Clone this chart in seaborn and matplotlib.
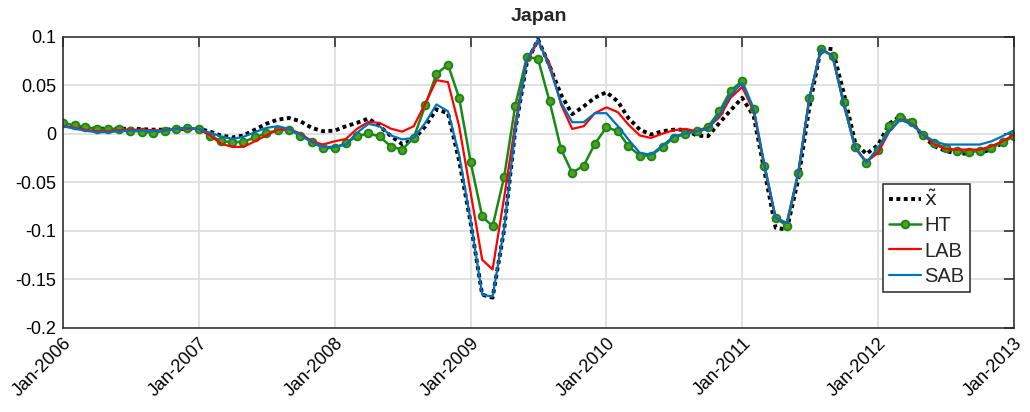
import numpy as np
import pandas as pd
import matplotlib
matplotlib.use("Agg")
import matplotlib.pyplot as plt
import matplotlib.dates as mdates
import seaborn as sns

# monthly values Jan-2006 .. Jan-2013 (85 points)
months = pd.date_range("2006-01-01", "2013-01-01", freq="MS")

x_tilde = [0.008, 0.007, 0.006, 0.005, 0.005, 0.005, 0.005, 0.0045, 0.004, 0.004, 0.0045, 0.005,
           0.005, 0.002, -0.002, -0.004, -0.002, 0.004, 0.010, 0.0144, 0.016, 0.0127, 0.0058, 0.0024,
           0.003, 0.0076, 0.011, 0.0155, 0.0076, -0.0027, -0.011, -0.006, 0.0075, 0.025, 0.021, -0.028,
           -0.092, -0.166, -0.169, -0.099, 0.004, 0.073, 0.097, 0.070, 0.040, 0.020, 0.028, 0.037,
           0.0426, 0.033, 0.016, 0.004, -0.001, 0.0024, 0.004, 0.004, -0.002, -0.0027, 0.011, 0.024,
           0.0368, 0.018, -0.037, -0.097, -0.099, -0.047, 0.028, 0.088, 0.087, 0.042, -0.0096, -0.021,
           -0.012, 0.0103, 0.018, 0.012, -0.0027, -0.013, -0.018, -0.0206, -0.0206, -0.0196, -0.0165, -0.0096,
           -0.001]

ht = [0.011, 0.0086, 0.0069, 0.0048, 0.0048, 0.0048, 0.003, 0.002, 0.0007, 0.003, 0.0048, 0.0058,
      0.0048, -0.002, -0.0079, -0.0089, -0.0085, -0.004, 0.0003, 0.0035, 0.004, -0.002, -0.0085, -0.0148,
      -0.015, -0.0096, -0.003, 0.0003, -0.003, -0.0134, -0.0165, -0.0042, 0.029, 0.0615, 0.071, 0.0368,
      -0.0296, -0.0853, -0.0956, -0.0447, 0.0289, 0.079, 0.077, 0.0333, -0.016, -0.0405, -0.033, -0.0106,
      0.0065, 0.0024, -0.013, -0.0227, -0.0227, -0.0137, -0.0045, 0.0, 0.0024, 0.0069, 0.023, 0.0443,
      0.054, 0.0254, -0.033, -0.087, -0.095, -0.0405, 0.0368, 0.0873, 0.080, 0.033, -0.0137, -0.030,
      -0.0165, 0.0076, 0.0172, 0.0117, -0.001, -0.0096, -0.0148, -0.018, -0.019, -0.018, -0.0148, -0.009,
      -0.0027]

lab = [0.0082, 0.0058, 0.004, 0.0024, 0.0024, 0.0034, 0.004, 0.004, 0.0034, 0.0034, 0.0048, 0.005,
       0.0048, -0.002, -0.0103, -0.0137, -0.0137, -0.0079, -0.002, 0.004, 0.0048, 0.0, -0.0079, -0.0113,
       -0.008, -0.0055, 0.0048, 0.012, 0.011, 0.005, 0.002, 0.0076, 0.031, 0.055, 0.053, 0.0076,
       -0.061, -0.130, -0.140, -0.066, 0.010, 0.0745, 0.095, 0.072, 0.030, 0.0048, 0.0076, 0.021,
       0.027, 0.022, 0.0093, -0.002, -0.0045, 0.0, 0.0034, 0.0048, 0.0024, 0.0058, 0.017, 0.037,
       0.048, 0.023, -0.031, -0.087, -0.092, -0.040, 0.037, 0.087, 0.080, 0.030, -0.015, -0.029,
       -0.020, 0.0024, 0.0144, 0.010, -0.001, -0.0113, -0.0158, -0.0165, -0.0165, -0.0165, -0.013, -0.008,
       -0.001]

sab = [0.0076, 0.005, 0.003, 0.0014, 0.0014, 0.0024, 0.003, 0.003, 0.0024, 0.003, 0.0048, 0.0058,
       0.0048, 0.0007, -0.0027, -0.0055, -0.0034, 0.0014, 0.0058, 0.0076, 0.0048, -0.001, -0.009, -0.0137,
       -0.0137, -0.0113, 0.0007, 0.010, 0.0076, -0.002, -0.006, -0.0045, 0.011, 0.030, 0.023, -0.022,
       -0.090, -0.166, -0.168, -0.098, 0.004, 0.076, 0.097, 0.068, 0.032, 0.0117, 0.0117, 0.021,
       0.021, 0.0076, -0.006, -0.020, -0.0216, -0.0124, -0.0027, 0.0, 0.0024, 0.0048, 0.0196, 0.040,
       0.052, 0.025, -0.030, -0.087, -0.092, -0.040, 0.037, 0.087, 0.080, 0.030, -0.015, -0.030,
       -0.0148, 0.0024, 0.0144, 0.0093, -0.001, -0.008, -0.0113, -0.0113, -0.0113, -0.0113, -0.008, -0.0027,
       0.0034]

y_ticks = [-0.2, -0.15, -0.1, -0.05, 0, 0.05, 0.1]
y_labels = ["-0.2", "-0.15", "-0.1", "-0.05", "0", "0.05", "0.1"]
x_years = pd.date_range("2006-01-01", "2013-01-01", freq="YS")

df = pd.DataFrame({"date": months, "xt": x_tilde, "HT": ht, "LAB": lab, "SAB": sab})

sns.set_style("white")
plt.rcParams["font.family"] = ["Liberation Sans", "DejaVu Sans"]
plt.rcParams["mathtext.fontset"] = "dejavusans"

fig = plt.figure(figsize=(10.3, 4.12), dpi=100)
ax = fig.add_axes([0.0612, 0.2046, 0.9233, 0.7068])

sns.lineplot(data=df, x="date", y="xt", ax=ax, color="black", lw=2.8,
             dashes=False, label=r"$\tilde{\mathrm{x}}$")
ax.lines[-1].set_dashes([1.0, 0.9])
sns.lineplot(data=df, x="date", y="HT", ax=ax, color="#168a16", lw=1.8,
             marker="o", markersize=5.5, markerfacecolor="#5a9a22",
             markeredgecolor="#168a16", markeredgewidth=1.4, label="HT")
sns.lineplot(data=df, x="date", y="LAB", ax=ax, color="#ff0000", lw=1.6, label="LAB")
sns.lineplot(data=df, x="date", y="SAB", ax=ax, color="#0072BD", lw=1.6, label="SAB")

ax.set_xlim(months[0], months[-1])
ax.set_ylim(-0.2, 0.1)
ax.set_yticks(y_ticks)
ax.set_yticklabels(y_labels)
ax.set_xticks(x_years)
ax.xaxis.set_major_formatter(mdates.DateFormatter("%b-%Y"))
plt.setp(ax.get_xticklabels(), rotation=45, ha="right", va="top", rotation_mode="anchor")
ax.set_xlabel("")
ax.set_ylabel("")

ax.grid(True, color="#dedede", lw=1.3)
ax.set_axisbelow(True)
for s in ax.spines.values():
    s.set_color("#262626")
    s.set_linewidth(1.1)
ax.tick_params(axis="both", direction="in", length=7, width=1.1, color="#262626",
               labelsize=13, labelcolor="black", top=True, right=True, pad=5)

ax.set_title("Japan", fontsize=14, fontweight="bold", pad=11)

leg = ax.legend(loc="lower left", bbox_to_anchor=(0.862, 0.124), borderaxespad=0,
                fontsize=14.5, handlelength=1.6, handletextpad=0.15, labelspacing=0.3,
                borderpad=0.3, fancybox=False, framealpha=1, edgecolor="#262626")
leg.get_frame().set_linewidth(1.1)

fig.savefig("out.png", dpi=100)
